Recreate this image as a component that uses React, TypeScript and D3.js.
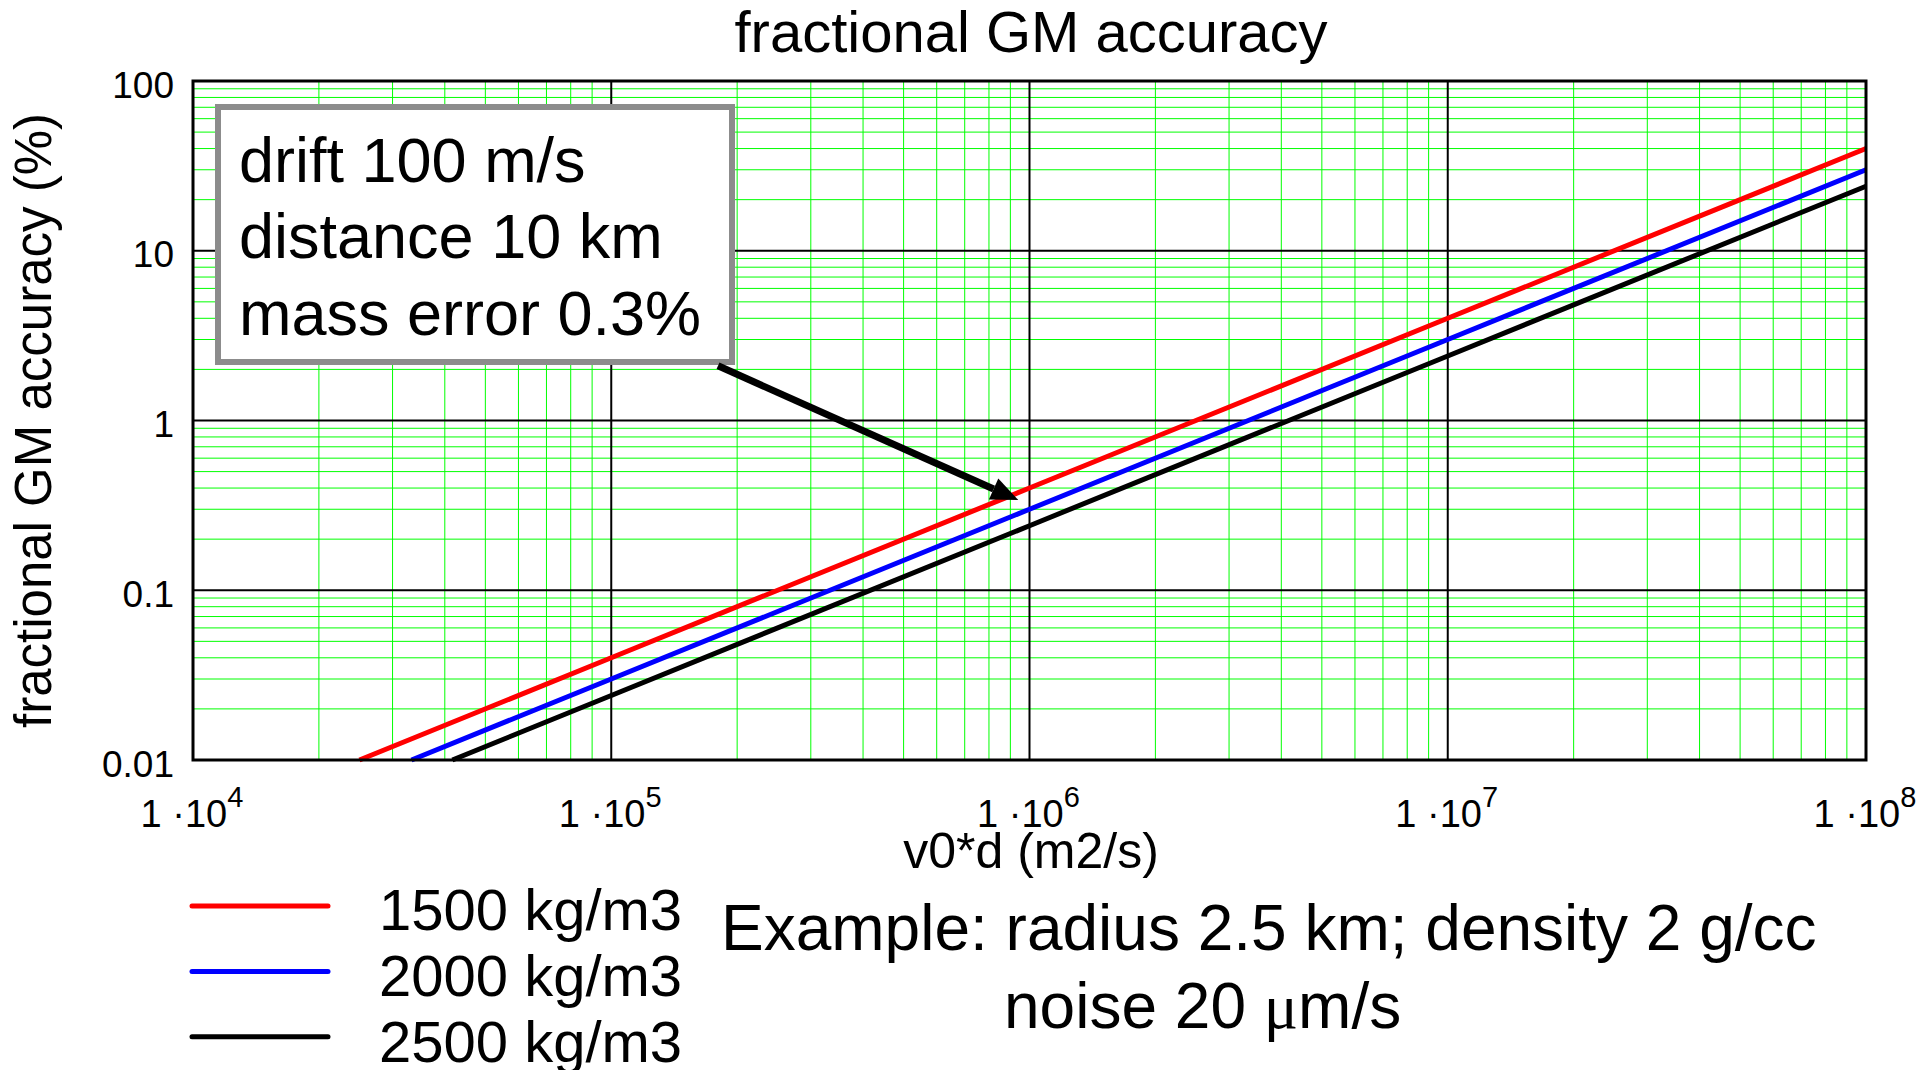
import React from "react";
import * as d3 from "d3";

// Series: fractional GM accuracy (%) versus v0*d (m2/s), one per asteroid density
const densityLabels = ["1500 kg/m3", "2000 kg/m3", "2500 kg/m3"];
const seriesColors = ["#ff0000", "#0000ff", "#000000"];

const redX = [2.5e4, 1e5, 1e6, 1e7, 1e8];
const redY = [0.01, 0.04, 0.4, 4, 40];
const blueX = [3.33e4, 1e5, 1e6, 1e7, 1e8];
const blueY = [0.01, 0.03, 0.3, 3, 30];
const blackX = [4.17e4, 1e5, 1e6, 1e7, 1e8];
const blackY = [0.01, 0.024, 0.24, 2.4, 24];

// Axis ticks
const xDecadeExponents = [4, 5, 6, 7, 8];
const yTickValues = [0.01, 0.1, 1, 10, 100];
const yTickLabels = ["0.01", "0.1", "1", "10", "100"];

// Annotation
const boxLines = ["drift 100 m/s", "distance 10 km", "mass error 0.3%"];
const arrowTail = { x: 1.8e5, y: 2.1 };
const arrowTip = { x: 9.4e5, y: 0.34 };

const W = 1926;
const H = 1070;
const L = 193, R = 1866, T = 81, B = 760;
const FONT = "'Liberation Sans', Arial, Helvetica, sans-serif";

export default function App() {
  const x = d3.scaleLog().domain([1e4, 1e8]).range([L, R]);
  const y = d3.scaleLog().domain([0.01, 100]).range([B, T]);

  const minorX: number[] = [];
  for (let e = 4; e < 8; e++) for (let k = 2; k <= 9; k++) minorX.push(k * Math.pow(10, e));
  const minorY: number[] = [];
  for (let e = -2; e < 2; e++) for (let k = 2; k <= 9; k++) minorY.push(k * Math.pow(10, e));

  const line = d3
    .line<[number, number]>()
    .x((d) => x(d[0]))
    .y((d) => y(d[1]));

  const series = [
    { xs: redX, ys: redY },
    { xs: blueX, ys: blueY },
    { xs: blackX, ys: blackY },
  ].map((s, i) => ({
    color: seriesColors[i],
    label: densityLabels[i],
    points: s.xs.map((v, j) => [v, s.ys[j]] as [number, number]),
  }));

  // arrow geometry
  const tx = x(arrowTail.x), ty = y(arrowTail.y);
  const hx = x(arrowTip.x), hy = y(arrowTip.y);
  const ang = Math.atan2(hy - ty, hx - tx);
  const headLen = 27, headHalf = 11.5;
  const bx = hx - headLen * Math.cos(ang), by = hy - headLen * Math.sin(ang);
  const px = -Math.sin(ang), py = Math.cos(ang);
  const head = `M${hx},${hy}L${bx + px * headHalf},${by + py * headHalf}L${bx - px * headHalf},${by - py * headHalf}Z`;

  return (
    <svg
      width={W}
      height={H}
      style={{ position: "absolute", left: 0, top: 0, background: "#fff" }}
      fontFamily={FONT}
    >
      <rect x={0} y={0} width={W} height={H} fill="#fff" />

      {/* minor grid */}
      <g stroke="#00ff00" strokeWidth={1}>
        {minorX.map((v) => (
          <line key={"mx" + v} x1={x(v)} x2={x(v)} y1={T} y2={B} />
        ))}
        {minorY.map((v) => (
          <line key={"my" + v} x1={L} x2={R} y1={y(v)} y2={y(v)} />
        ))}
      </g>

      {/* major grid */}
      <g stroke="#000" strokeWidth={2}>
        {xDecadeExponents.map((e) => (
          <line key={"gx" + e} x1={x(Math.pow(10, e))} x2={x(Math.pow(10, e))} y1={T} y2={B} />
        ))}
        {yTickValues.map((v) => (
          <line key={"gy" + v} x1={L} x2={R} y1={y(v)} y2={y(v)} />
        ))}
      </g>

      {/* curves */}
      {series.map((s) => (
        <path key={s.label} d={line(s.points) || ""} fill="none" stroke={s.color} strokeWidth={5} />
      ))}

      {/* frame */}
      <rect x={L} y={T} width={R - L} height={B - T} fill="none" stroke="#000" strokeWidth={3} />

      {/* y tick labels */}
      {yTickValues.map((v, i) => (
        <text key={"yl" + v} x={174} y={y(v) + 16.5} fontSize={37} textAnchor="end" fill="#000">
          {yTickLabels[i]}
        </text>
      ))}

      {/* x tick labels */}
      {xDecadeExponents.map((e) => (
        <text key={"xl" + e} x={x(Math.pow(10, e)) - 1} y={827} fontSize={38} textAnchor="middle" fill="#000">
          {"1 \u00b710"}
          <tspan fontSize={29} dy={-20}>{String(e)}</tspan>
        </text>
      ))}

      {/* title and axis labels */}
      <text x={1031} y={52} fontSize={58} textAnchor="middle" fill="#000">
        fractional GM accuracy
      </text>
      <text x={1031} y={868} fontSize={50} textAnchor="middle" fill="#000">
        v0*d (m2/s)
      </text>
      <text
        transform={`translate(51,${(T + B) / 2}) rotate(-90)`}
        fontSize={51}
        textAnchor="middle"
        fill="#000"
      >
        fractional GM accuracy (%)
      </text>

      {/* annotation box */}
      <rect x={218} y={107} width={514} height={255} fill="#fff" stroke="#8c8c8c" strokeWidth={6} />
      {boxLines.map((t, i) => (
        <text key={t} x={239} y={182 + i * 76.3} fontSize={63} fill="#000">
          {t}
        </text>
      ))}

      {/* arrow */}
      <line x1={tx} y1={ty} x2={bx} y2={by} stroke="#000" strokeWidth={7} />
      <path d={head} fill="#000" />

      {/* legend */}
      {series.map((s, i) => (
        <g key={"lg" + s.label}>
          <line
            x1={192}
            x2={328}
            y1={906 + i * 65.4}
            y2={906 + i * 65.4}
            stroke={s.color}
            strokeWidth={5}
            strokeLinecap="round"
          />
          <text x={379} y={930 + i * 65.8} fontSize={58} fill="#000">
            {s.label}
          </text>
        </g>
      ))}

      {/* example note */}
      <text x={721} y={950} fontSize={64} fill="#000">
        Example: radius 2.5 km; density 2 g/cc
      </text>
      <text x={1004} y={1028} fontSize={64} fill="#000">
        {"noise 20 "}
        <tspan fontFamily="'Liberation Serif', 'Times New Roman', serif">{"\u03bc"}</tspan>
        {"m/s"}
      </text>
    </svg>
  );
}
